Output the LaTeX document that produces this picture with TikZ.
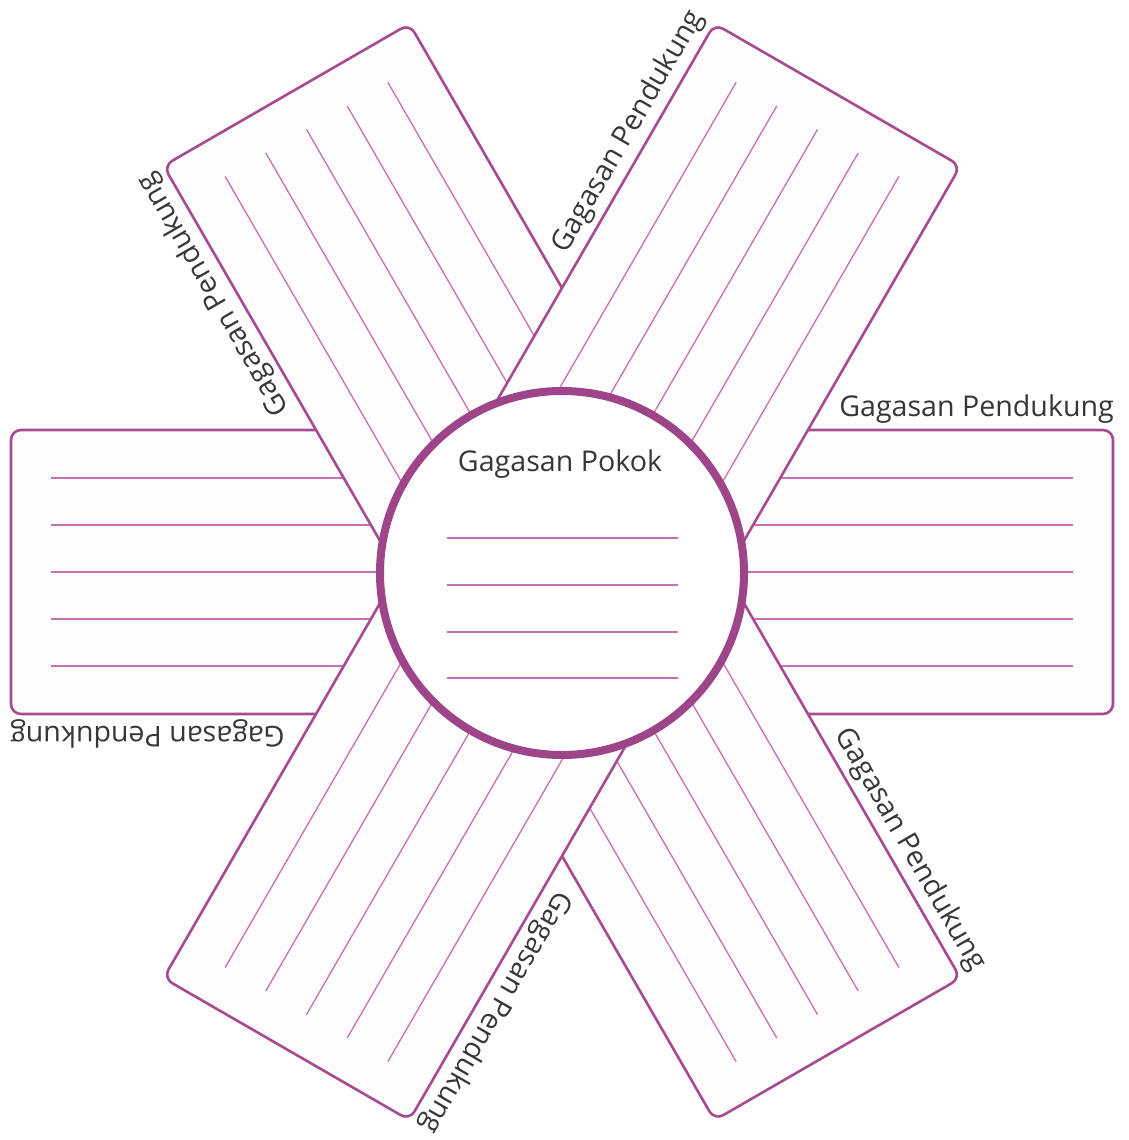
\documentclass[tikz,border=0pt]{standalone}
\usepackage{fontspec}
\setmainfont{Open Sans}
\definecolor{bandc}{RGB}{166,74,146}
\definecolor{rulec}{RGB}{196,112,178}
\definecolor{circc}{RGB}{158,68,136}
\definecolor{txtc}{RGB}{55,55,55}
\definecolor{bandfill}{RGB}{253,253,254}
\begin{document}
\begin{tikzpicture}[x=1pt,y=1pt,
  band/.style={draw=bandc, line width=2.6pt, fill=bandfill, rounded corners=10pt},
  ruling/.style={draw=rulec, line width=1.3pt},
  lbl/.style={text=txtc, font=\fontsize{28.6}{31}\selectfont, inner sep=0pt, anchor=base east, transform shape},
  title/.style={text=txtc, font=\fontsize{28.6}{31}\selectfont, inner sep=0pt, anchor=base},
  hub/.style={circle, draw=circc, line width=8pt, fill=white, minimum size=364pt, inner sep=0pt}
]
\useasboundingbox (0,0) rectangle (1129,1140);
\fill[white] (0,0) rectangle (1129,1140);
\coordinate (C) at (562,568);
% bands: horizontal at bottom, then 120 degrees, then 60 degrees on top
\foreach \a in {0,120,60}{
  \begin{scope}[shift={(C)}, rotate=\a]
    \path[band] (-551,-142) rectangle (551,142);
    \foreach \v in {-94,-47,0,47,94} \draw[ruling] (-511,\v) -- (511,\v);
  \end{scope}
}
% labels at the outer ends of the six arms
\foreach \a/\n in {0/h,120/l,60/r}{
  \begin{scope}[shift={(C)}, rotate=\a]
    \node[lbl] (\n a) at (552,155) {Gagasan Pendukung};
    \node[lbl, rotate=180] (\n b) at (-552,-155) {Gagasan Pendukung};
  \end{scope}
}
% central circle
\node[hub] (main) at (562,567) {};
\node[title] (pokok) at (560,668) {Gagasan Pokok};
\foreach \y in {602,555,508,462} \draw[ruling] (447,\y) -- (678,\y);
\end{tikzpicture}
\end{document}
